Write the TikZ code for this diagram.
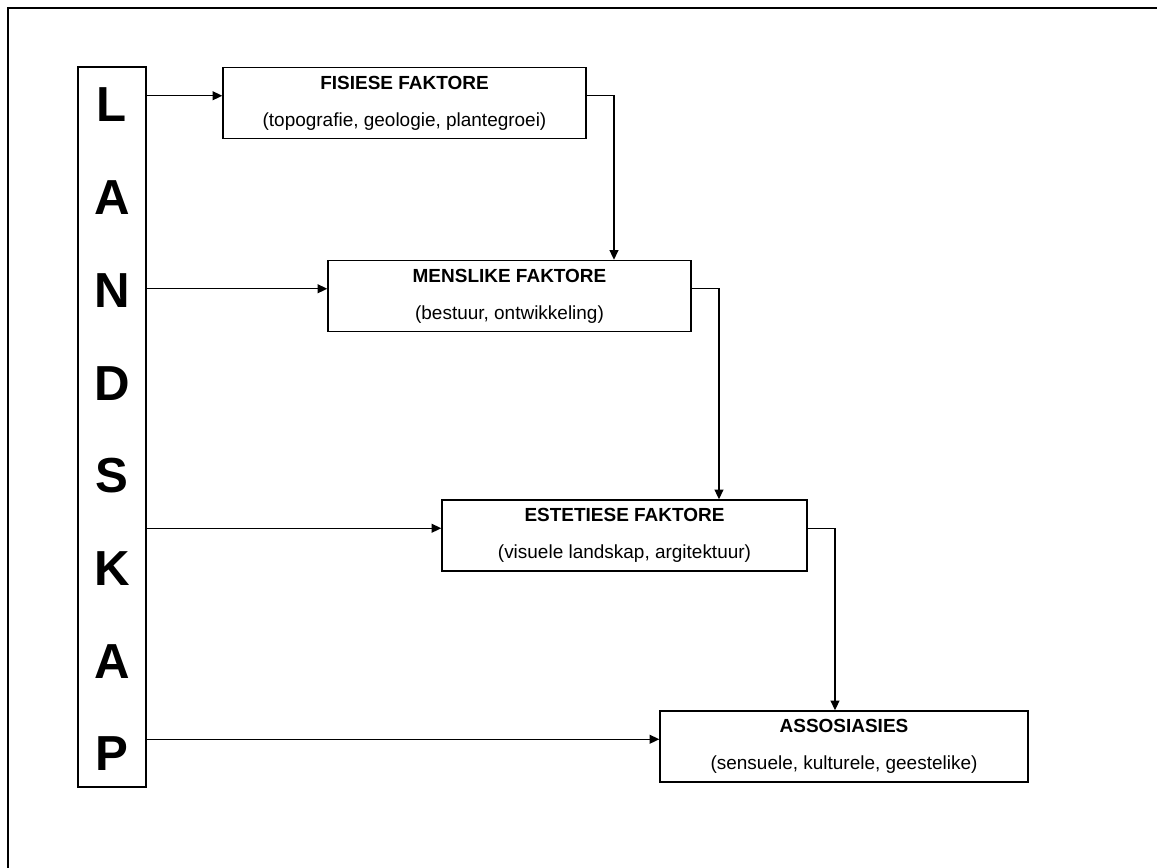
\documentclass[tikz,border=0pt]{standalone}
\usepackage{fontspec}
\setmainfont{Liberation Sans}
\usetikzlibrary{arrows.meta,calc,positioning}

\tikzset{
	arr/.style={line width=0.8pt,-{Triangle[length=5.5pt,width=5pt]}},
	factor/.style={draw,line width=0.8pt,minimum width=7.26cm,minimum height=1.42cm,
		align=center,font=\fontsize{10.8}{21}\selectfont}
}

\begin{document}
\begin{tikzpicture}[x=0.02cm, y=-0.02cm]
		\useasboundingbox (0,0) rectangle (1157,868);
		\draw[line width=0.8pt] (8,8) rectangle (1190,900);
		
		% word column
		\node[draw,line width=0.8pt,minimum width=1.36cm,minimum height=14.4cm] (land) at (112,427) {};
		\foreach \ch [count=\i from 0] in {L,A,N,D,S,K,A,P}
			\node[font=\fontsize{28}{28}\selectfont\bfseries] (let\i) at (112,105+92.7*\i) {\ch};
		
		\begin{scope}[every node/.style={factor}]
			\node (fis) at (404.5,103) {\textbf{FISIESE FAKTORE}\\(topografie, geologie, plantegroei)};
			\node (men) at (509.5,296) {\textbf{MENSLIKE FAKTORE}\\(bestuur, ontwikkeling)};
			\node[minimum width=7.3cm] (est) at (624.5,535.5) {\textbf{ESTETIESE FAKTORE}\\(visuele landskap, argitektuur)};
			\node[minimum width=7.36cm] (ass) at (844,746.5) {\textbf{ASSOSIASIES}\\(sensuele, kulturele, geestelike)};
		\end{scope}
		
		\foreach \n in {fis,men,est,ass}{
			\coordinate (\n-in) at ($(\n.north west)!0.4!(\n.south west)$);
			\coordinate (\n-out) at ($(\n.north east)!0.4!(\n.south east)$);
			\draw[arr] (land.east |- \n-in) -- (\n-in);
		}
		
		\draw[arr] (fis-out) -| ([xshift=2.09cm]men.north);
		\draw[arr] (men-out) -| ([xshift=1.89cm]est.north);
		\draw[arr] (est-out) -| ([xshift=-0.18cm]ass.north);
	\end{tikzpicture}
\end{document}
